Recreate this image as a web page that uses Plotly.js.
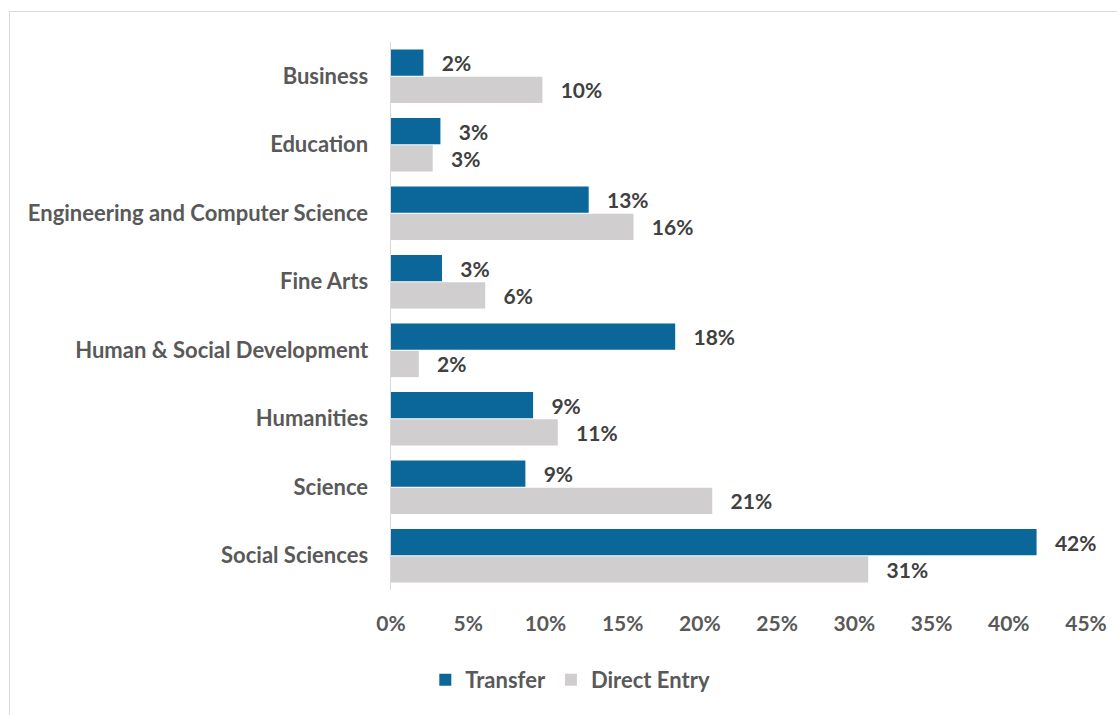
<!DOCTYPE html>
<html>
<head>
<meta charset="utf-8">
<script src="https://cdn.plot.ly/plotly-3.0.1.min.js"></script>
<style>
  html, body { margin: 0; padding: 0; background: #fff; }
  #frame { position: absolute; left: 9px; top: 11px; width: 1200px; height: 800px; border: 1.5px solid #d9d9d9; }
  #chart { position: absolute; left: 0; top: 0; width: 1117px; height: 715px; }
</style>
</head>
<body>
<div id="frame"></div>
<div id="chart"></div>
<script>
const categories = ["Business", "Education", "Engineering and Computer Science", "Fine Arts",
  "Human & Social Development", "Humanities", "Science", "Social Sciences"];
const transfer = [2.1, 3.2, 12.8, 3.3, 18.4, 9.2, 8.7, 41.8];
const directEntry = [9.8, 2.7, 15.7, 6.1, 1.8, 10.8, 20.8, 30.9];
const seriesNames = ["Transfer", "Direct Entry"];
const tickVals = [0, 5, 10, 15, 20, 25, 30, 35, 40, 45];
const tickText = ["0%", "5%", "10%", "15%", "20%", "25%", "30%", "35%", "40%", "45%"];

const fontFamily = "Lato, 'Open Sans', sans-serif";
const labelFont = { family: fontFamily, size: 21, color: "#404040", weight: "bold" };

const traces = [
  { type: "bar", orientation: "h", name: seriesNames[0], y: categories, x: transfer,
    marker: { color: "#0b6699" },
    texttemplate: "\u00a0\u00a0\u00a0%{x:.0f}%", textposition: "outside", textfont: labelFont,
    cliponaxis: false, hoverinfo: "x+y" },
  { type: "bar", orientation: "h", name: seriesNames[1], y: categories, x: directEntry,
    marker: { color: "#d0cecf" },
    texttemplate: "\u00a0\u00a0\u00a0%{x:.0f}%", textposition: "outside", textfont: labelFont,
    cliponaxis: false, hoverinfo: "x+y" }
];

const layout = {
  width: 1117, height: 715,
  margin: { l: 391, r: 31, t: 42, b: 125 },
  paper_bgcolor: "rgba(0,0,0,0)", plot_bgcolor: "rgba(0,0,0,0)",
  barmode: "group", bargap: 0.2, bargroupgap: 0.04,
  showlegend: true,
  legend: { orientation: "h", x: 0.258, xanchor: "center", y: -0.164, yanchor: "middle",
    font: { family: fontFamily, size: 22, color: "#595959", weight: "bold" },
    itemwidth: 30, traceorder: "normal" },
  xaxis: { range: [0, 45], tickmode: "array", tickvals: tickVals, ticktext: tickText, showgrid: false, zeroline: false,
    showline: false, ticks: "", tickfont: { family: fontFamily, size: 21, color: "#595959", weight: "bold" },
    ticklabelstandoff: 19, fixedrange: true },
  yaxis: { autorange: "reversed", showgrid: false, zeroline: false, showline: true, linecolor: "#d9d9d9",
    linewidth: 1.5, ticks: "", tickfont: { family: fontFamily, size: 22, color: "#595959", weight: "bold" },
    ticklabelstandoff: 17, fixedrange: true },
  font: { family: fontFamily }
};

Plotly.newPlot("chart", traces, layout, { displayModeBar: false, staticPlot: true });
</script>
</body>
</html>
